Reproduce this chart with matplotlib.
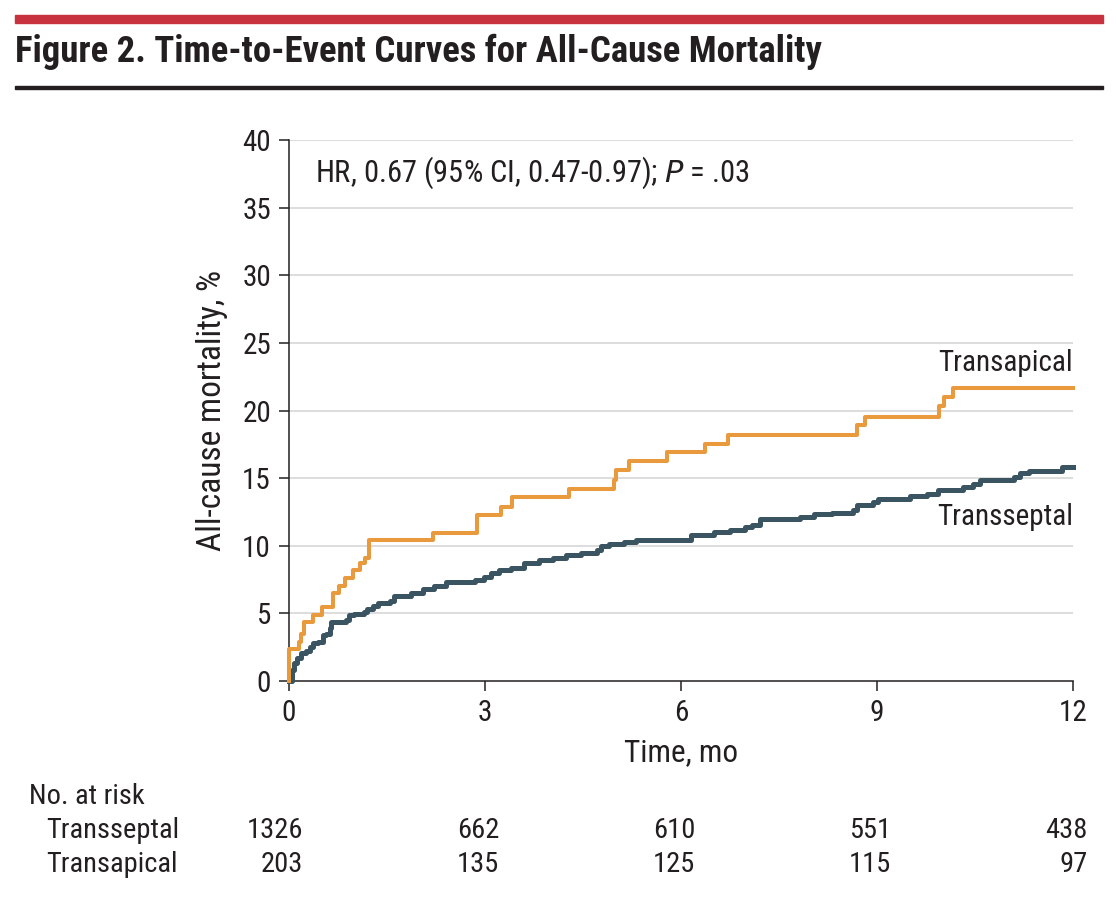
import numpy as np
from matplotlib import pyplot as plt
from matplotlib import font_manager
from matplotlib.patches import Rectangle

# pick a narrow sans if one is there
names = set(f.name for f in font_manager.fontManager.ttflist)
fam = 'DejaVu Sans'
for cand in ['Liberation Sans Narrow', 'Roboto Condensed', 'Open Sans Condensed', 'Lato']:
    if cand in names:
        fam = cand
        break
plt.rcParams['font.family'] = [fam, 'DejaVu Sans']

# Kaplan-Meier steps (months, % dead)
septal_t = [0, 0.04, 0.08, 0.13, 0.18, 0.26, 0.32, 0.36, 0.44, 0.52, 0.57, 0.62, 0.65, 0.87,
            0.92, 1.0, 1.15, 1.2, 1.28, 1.36, 1.54, 1.61, 1.74, 1.87, 2.05, 2.22, 2.4, 2.84,
            2.99, 3.09, 3.22, 3.4, 3.6, 3.83, 4.04, 4.24, 4.47, 4.72, 4.78, 4.9, 5.13, 5.31,
            6.16, 6.5, 6.75, 6.98, 7.08, 7.21, 7.82, 8.03, 8.31, 8.64, 8.69, 8.94, 9.02, 9.51,
            9.76, 9.94, 10.32, 10.47, 10.58, 11.09, 11.19, 11.32, 11.83, 12]
septal_v = [0, 0.8, 1.3, 1.7, 2.05, 2.2, 2.5, 2.8, 2.9, 3.4, 3.5, 3.9, 4.35, 4.5,
            4.85, 4.95, 5.1, 5.3, 5.55, 5.75, 5.95, 6.25, 6.3, 6.5, 6.8, 7.05, 7.3, 7.5,
            7.7, 8.0, 8.2, 8.35, 8.7, 8.95, 9.1, 9.3, 9.5, 9.7, 10.0, 10.1, 10.25, 10.45,
            10.8, 11.0, 11.15, 11.35, 11.55, 12.0, 12.15, 12.35, 12.45, 12.65, 13.0, 13.25, 13.45, 13.7,
            13.85, 14.1, 14.35, 14.6, 14.85, 15.1, 15.4, 15.55, 15.8, 15.8]

apical_t = [0, 0.0, 0.16, 0.18, 0.23, 0.36, 0.50, 0.68, 0.77, 0.86, 0.98, 1.08, 1.17, 1.22,
            2.21, 2.87, 3.24, 3.41, 4.28, 4.97, 5.00, 5.21, 5.79, 6.36, 6.72, 8.70, 8.82,
            9.95, 10.02, 10.17, 12.0]
apical_v = [0, 2.35, 2.9, 3.45, 4.35, 4.9, 5.5, 6.5, 7.0, 7.6, 8.2, 8.7, 9.1, 10.4,
            10.95, 12.3, 12.9, 13.6, 14.2, 14.85, 15.6, 16.25, 16.9, 17.55, 18.2, 18.9, 19.55,
            20.3, 21.0, 21.65, 21.65]

risk_times = [0, 3, 6, 9, 12]
risk_septal = [1326, 662, 610, 551, 438]
risk_apical = [203, 135, 125, 115, 97]

orange = '#E99A3C'
slate = '#3A5561'
ink = '#231F20'

fig = plt.figure(figsize=(11.16, 9), dpi=100)
ax = fig.add_axes([289/1116, 1 - 681/900, (1073 - 289)/1116, (681 - 140)/900])

ax.set_xlim(0, 12)
ax.set_ylim(0, 40)
for y in range(5, 45, 5):
    ax.axhline(y, color='#DADADA', linewidth=1.3, zorder=0)

ax.step(septal_t, septal_v, where='post', color=slate, linewidth=3.6, clip_on=False, zorder=3)
ax.step(apical_t, apical_v, where='post', color=orange, linewidth=2.9, clip_on=False, zorder=4)

for s in ['top', 'right']:
    ax.spines[s].set_visible(False)
for s in ['left', 'bottom']:
    ax.spines[s].set_color(ink)
    ax.spines[s].set_linewidth(1.1)
ax.set_xticks(risk_times)
ax.set_yticks(range(0, 45, 5))
ax.tick_params(direction='out', length=7, width=1.1, color=ink, labelsize=21, labelcolor=ink, pad=6)

ax.set_xlabel('Time, mo', fontsize=22.5, color=ink, labelpad=8)
ax.set_ylabel('All-cause mortality, %', fontsize=24, color=ink, labelpad=10)

ax.text(0.4, 37.6, 'HR, 0.67 (95% CI, 0.47-0.97); $\\it{P}$ = .03', fontsize=22, color=ink,
        va='center', ha='left')
ax.text(12, 23.5, 'Transapical', fontsize=21, color=ink, ha='right', va='center')
ax.text(12, 12.1, 'Transseptal', fontsize=21, color=ink, ha='right', va='center')

# number at risk table
fig.text(29/1116, 1 - 797/900, 'No. at risk', fontsize=20.5, color=ink, va='center')
fig.text(46/1116, 1 - 830/900, 'Transseptal', fontsize=20.5, color=ink, va='center')
fig.text(46/1116, 1 - 864/900, 'Transapical', fontsize=20.5, color=ink, va='center')
for t, a, b in zip(risk_times, risk_septal, risk_apical):
    xf = (289 + (t + 0.22) * (1073 - 289) / 12) / 1116
    fig.text(xf, 1 - 830/900, str(a), fontsize=20.5, color=ink, va='center', ha='right')
    fig.text(xf, 1 - 864/900, str(b), fontsize=20.5, color=ink, va='center', ha='right')

# header: red bar, title, black rule
fig.patches.append(Rectangle((15/1116, 1 - 23/900), (1103 - 15)/1116, 8/900,
                             transform=fig.transFigure, color='#C8313E', figure=fig))
fig.patches.append(Rectangle((15/1116, 1 - 89/900), (1103 - 15)/1116, 3/900,
                             transform=fig.transFigure, color=ink, figure=fig))
fig.text(15/1116, 1 - 52/900, 'Figure 2. Time-to-Event Curves for All-Cause Mortality',
         fontsize=26.5, fontweight='bold', color=ink, va='center', ha='left')

fig.savefig('out.png', dpi=100)
